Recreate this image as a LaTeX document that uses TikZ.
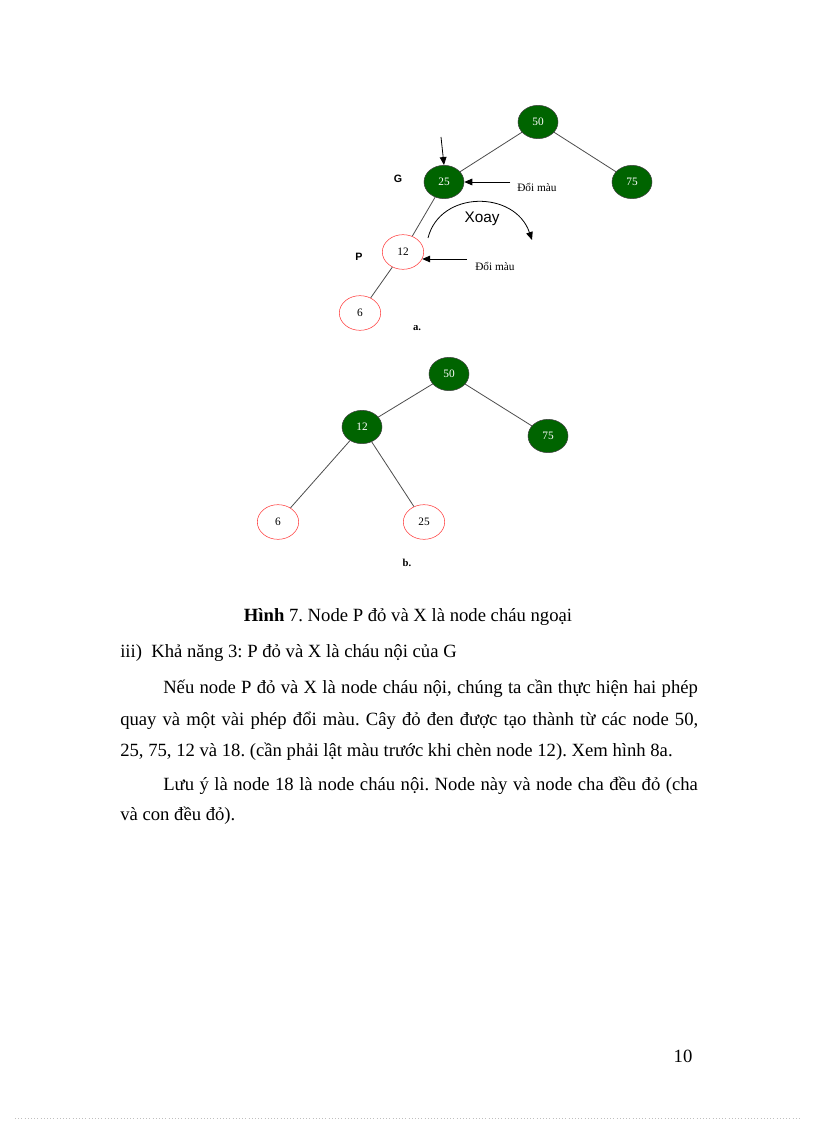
\documentclass[tikz,border=0pt]{standalone}
\usepackage{fontspec}
\setmainfont{Liberation Serif}
\newfontfamily\arialfont{Liberation Sans}
\usetikzlibrary{arrows.meta, positioning, shapes.geometric}
\definecolor{nodegreen}{RGB}{0,100,0}
\definecolor{nodered}{RGB}{255,60,60}
\newcommand{\jline}[2]{\makebox[#1][s]{#2}}
\frenchspacing

\begin{document}
\begin{tikzpicture}[x=0.75pt, y=-0.75pt,
  blk/.style={ellipse, draw=black!75, fill=nodegreen, text=white, minimum width=30pt,
              minimum height=25pt, inner sep=0pt, font=\fontsize{8.5}{10}\selectfont},
  rd/.style={ellipse, draw=nodered, fill=white, minimum width=31pt,
             minimum height=26pt, inner sep=0pt, font=\fontsize{8.5}{10}\selectfont},
  edge/.style={draw=black!70, line width=0.6pt},
  arrow/.style={-{Triangle[length=6pt,width=5pt]}, line width=0.6pt},
  lbl/.style={font=\arialfont\bfseries\fontsize{8}{10}\selectfont, inner sep=0pt},
  note/.style={font=\fontsize{8.5}{10}\selectfont, inner sep=0pt},
  body/.style={anchor=base west, inner sep=0pt, font=\fontsize{14}{16}\selectfont}
]
\useasboundingbox (0,0) rectangle (816,1123);
%% FIGURE a
\node[blk] (a50) at (538,122) {50};
\node[blk] (a25) at (444,182) {25};
\node[blk] (a75) at (632,182) {75};
\node[rd]  (a12) at (403,252) {12};
\node[rd]  (a6)  at (360,313) {6};
\draw[edge] (a50) -- (a25); \draw[edge] (a50) -- (a75);
\draw[edge] (a25) -- (a12); \draw[edge] (a12) -- (a6);
\node[lbl] (g) at (398,179) {G};
\node[lbl] (p) at (359,257) {P};
\node[note, anchor=west] (doi1) at (517,187) {Đổi màu};
\node[note, anchor=west] (doi2) at (475,266) {Đổi màu};
\draw[arrow] ([xshift=-5pt]a25.east -| doi1.west) -- (a25.east);
\draw[arrow] ([xshift=-6pt]doi2.west |- a12.-20) -- (a12.-20);
\coordinate (down) at (441,137);
\draw[arrow] (down) -- (a25.north);
\node[font=\arialfont\fontsize{11.5}{13}\selectfont] (xoay) at (482,219) {Xoay};
\coordinate (xs) at (428,238);
\coordinate (xe) at (532,240);
\draw[arrow] (xs) .. controls (440,190) and (515,190) .. (xe);
\node[note, font=\bfseries\fontsize{8}{10}\selectfont] (capa) at (417,328) {a.};
%% FIGURE b
\node[blk] (b50) at (449,374) {50};
\node[blk] (b12) at (362,427) {12};
\node[blk] (b75) at (548,436) {75};
\node[rd]  (b6)  at (278,522) {6};
\node[rd]  (b25) at (424,522) {25};
\draw[edge] (b50) -- (b12); \draw[edge] (b50) -- (b75);
\draw[edge] (b12) -- (b6);  \draw[edge] (b12) -- (b25);
\node[note, font=\bfseries\fontsize{8}{10}\selectfont] (capb) at (407,563) {b.};
%% TEXT
\node[body, anchor=base] (cap) at (408,621) {\textbf{Hình} 7. Node P đỏ và X là node cháu ngoại};
\node[body] (l1) at (120,657) {iii)\ \ Khả năng 3: P đỏ và X là cháu nội của G};
\node[body] (l2) at (163,693) {\jline{401pt}{Nếu node P đỏ và X là node cháu nội, chúng ta cần thực hiện hai phép}};
\node[body] (l3) at (120,725) {\jline{433.5pt}{quay và một vài phép đổi màu. Cây đỏ đen được tạo thành từ các node 50,}};
\node[body] (l4) at (120,756) {25, 75, 12 và 18. (cần phải lật màu trước khi chèn node 12). Xem hình 8a.};
\node[body] (l5) at (163,790) {\jline{401pt}{Lưu ý là node 18 là node cháu nội. Node này và node cha đều đỏ (cha}};
\node[body] (l6) at (120,820) {và con đều đỏ).};
\node[body, anchor=base] (pg) at (683,1062) {10};
\draw[gray!50, dotted] (15,1118) -- (800,1118);
\end{tikzpicture}
\end{document}
